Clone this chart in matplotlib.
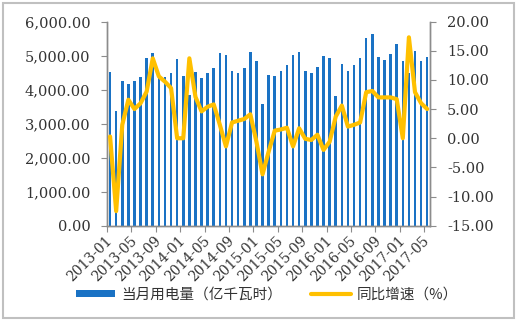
import matplotlib.pyplot as plt
import matplotlib.ticker as mticker
from matplotlib.patches import Rectangle

plt.rcParams['font.family'] = ['DejaVu Serif', 'Noto Sans CJK SC']

# 月度数据：2013-01 ~ 2017-05
months = [f"{y}-{m:02d}" for y in range(2013, 2018) for m in range(1, 13)][:53]

# 当月用电量（亿千瓦时）
power = [
    4510, 3363, 4245, 4157, 4265, 4382, 4941, 5088, 4330, 4372, 4480, 4912,
    4392, 3843, 4529, 4353, 4480, 4627, 5088, 5010, 4559, 4500, 4627, 5098,
    4853, 3588, 4441, 4402, 4559, 4716, 5029, 5108, 4549, 4480, 4657, 5000,
    4941, 3814, 4755, 4559, 4725, 4922, 5510, 5627, 4951, 4882, 5059, 5343,
    4853, 4480, 5137, 4833, 4951,
]

# 同比增速（%）
growth = [
    0.3, -12.5, 2.3, 6.6, 5.0, 6.0, 8.0, 13.7, 10.6, 9.7, 8.6, 0.0,
    0.0, 13.7, 7.1, 4.6, 5.4, 5.8, 2.3, -1.4, 2.7, 3.0, 3.3, 4.1,
    -0.6, -6.2, -2.3, 1.3, 1.5, 1.8, -1.4, 1.7, -0.1, -0.3, 0.6, -2.0,
    -0.6, 3.7, 5.6, 2.0, 2.3, 2.7, 7.9, 8.1, 7.0, 7.0, 7.0, 6.7,
    0.0, 17.3, 7.9, 6.0, 5.0,
]

bar_color = '#1a72c4'
line_color = '#FFC000'
spine_color = '#8c8c8c'
text_color = '#333333'

fig = plt.figure(figsize=(5.18, 3.22), dpi=100)
fig.patches.append(Rectangle((0.006, 0.012), 0.986, 0.98, transform=fig.transFigure,
                             fill=False, edgecolor='#c0c0c0', linewidth=1.5))

ax = fig.add_axes([0.2066, 0.299, 0.624, 0.634])
x = list(range(len(months)))
bars = ax.bar(x, power, width=0.42, color=bar_color, zorder=2)
ax.set_xlim(-0.5, len(months) - 0.5)
ax.set_ylim(0, 6000)
ax.yaxis.set_major_locator(mticker.MultipleLocator(1000))
ax.yaxis.set_major_formatter(mticker.FuncFormatter(lambda v, p: f"{v:,.2f}"))

# 刻度线画在类别分界处，标签每4个月一个
ax.set_xticks([i - 0.5 for i in range(0, len(months), 4)])
ax.set_xticklabels([])
ax.set_xticks(x[::4], minor=True)
ax.set_xticklabels(months[::4], minor=True, rotation=45, ha='right',
                   rotation_mode='anchor', va='center', fontsize=10, color=text_color)
ax.tick_params(axis='x', which='minor', length=0, pad=9)
ax.tick_params(axis='x', which='major', length=4, color=spine_color)
ax.tick_params(axis='y', length=4, color=spine_color, labelsize=10.5,
               labelcolor=text_color, pad=8)

ax2 = ax.twinx()
line, = ax2.plot(x, growth, color=line_color, linewidth=3,
                 solid_joinstyle='round', solid_capstyle='round', zorder=3)
ax2.set_ylim(-15, 20)
ax2.yaxis.set_major_locator(mticker.MultipleLocator(5))
ax2.yaxis.set_major_formatter(mticker.FuncFormatter(lambda v, p: f"{v:.2f}"))
ax2.tick_params(axis='y', length=4, color=spine_color, labelsize=10.5,
                labelcolor=text_color, pad=8)

for a in (ax, ax2):
    a.spines['top'].set_visible(False)
    for s in ('left', 'right', 'bottom'):
        a.spines[s].set_color(spine_color)
        a.spines[s].set_linewidth(1.0)

fig.legend([bars, line], ['当月用电量（亿千瓦时）', '同比增速（%）'],
           loc='center', bbox_to_anchor=(0.515, 0.085), ncol=2, frameon=False,
           handlelength=2.7, handleheight=0.45, handletextpad=0.4,
           columnspacing=2.0, labelcolor=text_color,
           prop={'family': ['Noto Sans CJK SC'], 'size': 10.5})

fig.savefig('out.png', dpi=100)
